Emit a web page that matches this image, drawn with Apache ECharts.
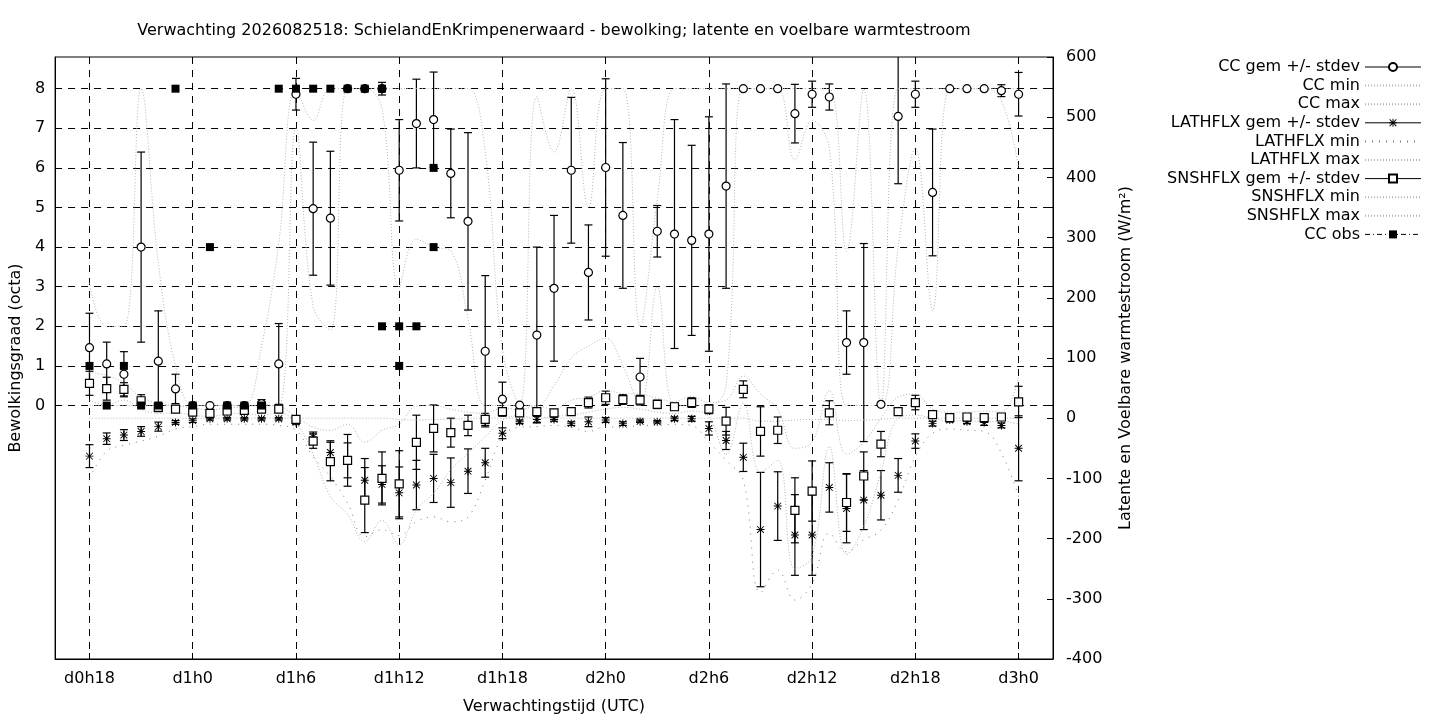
<!DOCTYPE html>
<html><head><meta charset="utf-8">
<script src="https://cdn.jsdelivr.net/npm/echarts@6/dist/echarts.min.js"></script>
<style>html,body{margin:0;padding:0;background:#fff}#c{width:1440px;height:720px}</style>
</head><body><div id="c"></div>
<script>
// ---- data (forecast hour since d0h0) ----
const hours = [18,19,20,21,22,23,24,25,26,27,28,29,30,31,32,33,34,35,36,37,38,39,40,41,42,43,44,45,46,47,48,49,50,51,52,53,54,55,56,57,58,59,60,61,62,63,64,65,66,67,68,69,70,71,72];
const xTickHours = [18,24,30,36,42,48,54,60,66,72];
const xTickLabels = ['d0h18','d1h0','d1h6','d1h12','d1h18','d2h0','d2h6','d2h12','d2h18','d3h0'];
const ccTicks = [0,1,2,3,4,5,6,7,8];

const ccMean = [1.46,1.05,0.79,4.0,1.12,0.42,0,0,0,0, 0.05,1.05,7.86,4.97,4.73,8,8,8,5.94,7.12, 7.22,5.86,4.65,1.37,0.16,0.01,1.78,2.96,5.94,3.36, 6.01,4.80,0.72,4.40,4.33,4.17,4.33,5.54,8,8, 8,7.37,7.86,7.79,1.59,1.59,0.03,7.30,7.86,5.38, 8,8,8,7.95,7.86];
const ccStd  = [0.87,0.55,0.57,2.4,1.27,0.37,0,0,0,0, 0.1,1.02,0.4,1.68,1.69,0,0,0.16,1.28,1.12, 1.2,1.12,2.24,1.91,0.43,0,2.22,1.84,1.84,1.2, 2.24,1.84,0.47,0.65,2.89,2.4,2.96,2.58,0,0, 0,0.74,0.33,0.33,0.8,2.5,0,1.7,0.33,1.6, 0,0,0,0.15,0.55];
const ccMin  = [0,0,0,0,0,0,0,0,0,0, 0,0,7.0,2.5,1.9,8,8,7.5,3.0,4.2, 4.0,3.9,2.2,0,0,0,0,0.5,1.2,1.5, 1.7,1.0,0,3.0,0,0,0,0.5,8,8, 8,6.2,7.2,6.5,0,0,0,4.0,6.5,2.4, 8,8,8,7.7,6.0];
const ccMax  = [3.1,2.0,2.0,8,3.6,1.0,0,0,0,0, 1.5,4.1,8,7.2,8,8,8,8,8,8, 8,8,8,6.4,1.4,0,7.8,6.4,8,5.0, 8,8,2.0,5.2,8,8,8,8,8,8, 8,8,8,8,3.9,8,0,8,8,8, 8,8,8,8,8];

const lathMean = [-63,-34,-28,-22,-14,-7,-4,-1,-1,-1, -1,-1,-7,-31,-57,-70,-103,-110,-124,-111, -100,-107,-88,-74,-25,-6,-2,-2,-9,-6, -3,-9,-5,-6,-1,-1,-17,-37,-65,-185, -146,-194,-194,-115,-150,-136,-128,-95,-38,-9, -3,-6,-7,-12,-50];
const lathStd  = [19,9.5,9,8,7.5,3,3,2,2,2, 2,2,3,8,19.5,29,36,31,43,41, 40,41,37,24,9,3,5,3,3,8, 4,3,2,2,3,4,11,15,23.5,95, 57,67,67,41,57,49,41,28,12,4, 3,3,5,4,54];
const lathMin  = [-100,-55,-45,-38,-30,-18,-14,-10,-10,-10, -10,-12,-20,-64,-97,-141,-197,-185,-195,-172, -164,-172,-164,-103,-31,-15,-14,-12,-15,-22, -14,-16,-12,-12,-10,-12,-40,-70,-103,-290, -252,-302,-275,-191,-222,-202,-186,-136,-64,-25, -18,-20,-22,-58,-130];
const lathMax  = [0,0,0,0,0,0,0,0,0,0, 0,0,0,0,0,0,0,0,-2,-3, -2,-2,0,0,0,0,0,0,0,0, 0,0,0,0,0,0,0,0,0,-5, -5,-3,-2,-2,-4,-3,-2,0,0,0, 0,0,0,0,0];

const snshMean = [58,49,48,29,18,15,10,8,12,13, 15,15,-2,-38,-72,-70,-136,-100,-109,-40, -17,-24,-12,-2,11,9,11,9,11,26, 34,31,30,23,19,26,15,-5,48,-22, -20,-153,-121,9,-140,-96,-43,11,26,6, 1,2,1,2,27];
const snshStd  = [20,19,11,10,7,3,3,3,3,3, 5,3,3,12,32,43,54,44,55,45, 39,24,17,10,5,3,5,3,3,9, 11,8,8,7,6,8,7.5,23,14,41, 22,54,50,20,48,40,21,5,12,3, 3,3,4,3,26];
const snshMin  = [30,22,30,15,8,9,5,3,7,8, 5,9,-8,-60,-130,-160,-205,-170,-210,-152, -125,-86,-58,-31,-3,4,0,3,5,10, 15,18,15,10,8,12,2,-60,25,-90, -70,-250,-230,-47,-227,-180,-90,0,5,0, -5,-4,-6,-5,-10];
const snshMax  = [76,71,58,35,25,21,17,14,17,19, 22,20,3,-15,-20,-10,-40,-20,-10,20, 21,15,10,8,17,14,20,15,30,35, 46,41,40,33,28,36,26,30,70,40, 15,-50,-40,46,-60,-40,0,35,40,15, 10,10,12,10,68];

const obsHours  = [18,19,20,21,22,23,24,25,26,27,28,29,30,31,32,33,34,35,35,36,36,37,38,38];
const obsValues = [1,0,1,0,0,8,0,4,0,0,0,8,8,8,8,8,8,8,2,2,1,2,6,4];

// ---- chart ----
const F = 'DejaVu Sans';
const FS = 16;
const pairs = (ys) => hours.map((h, i) => [h, ys[i]]);
const triples = (m, s) => hours.map((h, i) => [h, m[i], s[i]]);
const ASTERISK = 'path://M4.4,0H5.6V10H4.4Z M0,4.4H10V5.6H0Z M1.2,0.4L9.6,8.8L8.8,9.6L0.4,1.2Z M8.8,0.4L9.6,1.2L1.2,9.6L0.4,8.8Z';

function errBar(params, api) {
  const x = api.value(0), m = api.value(1), s = api.value(2);
  if (!(s > 0)) return null;
  const cs = params.coordSys;
  const top = api.coord([x, m + s]), bot = api.coord([x, m - s]);
  const yMin = cs.y, yMax = cs.y + cs.height;
  const st = {stroke: '#000', lineWidth: 1.2};
  const y1 = Math.max(top[1], yMin), y2 = Math.min(bot[1], yMax);
  const ch = [];
  if (y2 > y1) ch.push({type: 'line', shape: {x1: top[0], y1: y1, x2: top[0], y2: y2}, style: st});
  if (top[1] >= yMin && top[1] <= yMax) ch.push({type: 'line', shape: {x1: top[0] - 4, y1: top[1], x2: top[0] + 4, y2: top[1]}, style: st});
  if (bot[1] <= yMax && bot[1] >= yMin) ch.push({type: 'line', shape: {x1: bot[0] - 4, y1: bot[1], x2: bot[0] + 4, y2: bot[1]}, style: st});
  return {type: 'group', children: ch};
}
function errSeries(name, yIdx, m, s) {
  return {name: name, type: 'custom', xAxisIndex: 0, yAxisIndex: yIdx, silent: true,
    data: triples(m, s), encode: {x: 0, y: 1}, renderItem: errBar};
}
function dotted(name, yIdx, ys, color, dash) {
  return {name: name, type: 'line', yAxisIndex: yIdx, data: pairs(ys), symbol: 'none', smooth: 0.4,
    silent: true, itemStyle: {color: color},
    lineStyle: {color: color, width: 1, type: dash}};
}
function points(name, yIdx, data, symbol, size, itemStyle) {
  return {name: name, type: 'line', yAxisIndex: yIdx, data: data, symbol: symbol, symbolSize: size,
    showAllSymbol: true, silent: true, itemStyle: itemStyle, lineStyle: {opacity: 0, color: '#000'}};
}

const LIGHT = '#b4b4b4';
const option = {
  animation: false,
  backgroundColor: '#fff',
  title: {
    text: 'Verwachting 2026082518: SchielandEnKrimpenerwaard - bewolking; latente en voelbare warmtestroom',
    left: 554, top: 22, textAlign: 'center', padding: 0,
    textStyle: {fontFamily: F, fontSize: FS, fontWeight: 'normal', color: '#000', lineHeight: 18}
  },
  grid: {left: 55, right: 387, top: 57, bottom: 60, show: true, borderColor: '#000', borderWidth: 1, backgroundColor: 'transparent'},
  legend: {
    orient: 'vertical', right: 18, top: 59, padding: 0, align: 'right', itemWidth: 56, itemHeight: 10, itemGap: 2.6,
    selectedMode: false,
    textStyle: {fontFamily: F, fontSize: FS, color: '#000', lineHeight: 14},
    data: [
      {name: 'CC gem +/- stdev', lineStyle: {opacity: 1, color: '#000', width: 1, type: 'solid'}},
      {name: 'CC min', itemStyle: {opacity: 0}},
      {name: 'CC max', itemStyle: {opacity: 0}},
      {name: 'LATHFLX gem +/- stdev', lineStyle: {opacity: 1, color: '#000', width: 1, type: 'solid'}},
      {name: 'LATHFLX min', itemStyle: {opacity: 0}},
      {name: 'LATHFLX max', itemStyle: {opacity: 0}},
      {name: 'SNSHFLX gem +/- stdev', lineStyle: {opacity: 1, color: '#000', width: 1, type: 'solid'}},
      {name: 'SNSHFLX min', itemStyle: {opacity: 0}},
      {name: 'SNSHFLX max', itemStyle: {opacity: 0}},
      {name: 'CC obs', lineStyle: {opacity: 1, color: '#000', width: 1, type: [5, 3, 1, 3]}}
    ]
  },
  xAxis: {
    type: 'value', min: 16, max: 74,
    name: 'Verwachtingstijd (UTC)', nameLocation: 'middle', nameGap: 40,
    nameTextStyle: {fontFamily: F, fontSize: FS, color: '#000'},
    axisLine: {show: true, onZero: false, lineStyle: {color: '#000', width: 1}},
    axisTick: {show: true, inside: true, length: 6, customValues: xTickHours, lineStyle: {color: '#000'}},
    axisLabel: {customValues: xTickHours, margin: 12, fontFamily: F, fontSize: FS, color: '#000',
      formatter: (v) => xTickLabels[xTickHours.indexOf(v)] || ''},
    splitLine: {show: true, lineStyle: {color: '#000', width: 1, type: [7, 6]}}
  },
  yAxis: [
    {
      type: 'value', min: -6.4, max: 8.8, position: 'left',
      name: 'Bewolkingsgraad (octa)', nameLocation: 'middle', nameGap: 25,
      nameTextStyle: {fontFamily: F, fontSize: FS, color: '#000'},
      axisLine: {show: true, onZero: false, lineStyle: {color: '#000'}},
      axisTick: {show: true, inside: true, length: 6, customValues: ccTicks, lineStyle: {color: '#000'}},
      axisLabel: {customValues: ccTicks, margin: 10, fontFamily: F, fontSize: FS, color: '#000'},
      splitLine: {show: true, lineStyle: {color: '#000', width: 1, type: [7, 6]}}
    },
    {
      type: 'value', min: -400, max: 600, interval: 100, position: 'right',
      name: 'Latente en Voelbare warmtestroom (W/m²)', nameLocation: 'middle', nameGap: 65,
      nameTextStyle: {fontFamily: F, fontSize: FS, color: '#000'},
      axisLine: {show: true, onZero: false, lineStyle: {color: '#000'}},
      axisTick: {show: true, inside: true, length: 6, lineStyle: {color: '#000'}},
      axisLabel: {margin: 13, fontFamily: F, fontSize: FS, color: '#000'},
      splitLine: {show: false}
    },
    {
      type: 'value', min: -6.4, max: 8.8, position: 'right', offset: 0,
      axisLine: {show: false, onZero: false},
      axisTick: {show: true, inside: true, length: 6, customValues: ccTicks, lineStyle: {color: '#000'}},
      axisLabel: {show: false},
      splitLine: {show: false}
    }
  ],
  series: [
    errSeries('ccErr', 0, ccMean, ccStd),
    points('CC gem +/- stdev', 0, pairs(ccMean), 'circle', 8, {color: '#fff', borderColor: '#000', borderWidth: 1.2}),
    dotted('CC min', 0, ccMin, LIGHT, [1, 2]),
    dotted('CC max', 0, ccMax, LIGHT, [1, 2]),
    errSeries('lathErr', 1, lathMean, lathStd),
    points('LATHFLX gem +/- stdev', 1, pairs(lathMean), ASTERISK, 8, {color: '#000'}),
    dotted('LATHFLX min', 1, lathMin, '#7a7a7a', [1, 6]),
    dotted('LATHFLX max', 1, lathMax, LIGHT, [1, 2]),
    errSeries('snshErr', 1, snshMean, snshStd),
    points('SNSHFLX gem +/- stdev', 1, pairs(snshMean), 'rect', 8, {color: '#fff', borderColor: '#000', borderWidth: 1.2}),
    dotted('SNSHFLX min', 1, snshMin, LIGHT, [1, 2]),
    dotted('SNSHFLX max', 1, snshMax, LIGHT, [1, 2]),
    points('CC obs', 0, obsHours.map((h, i) => [h, obsValues[i]]), 'rect', 8, {color: '#000'})
  ]
};
const chart = echarts.init(document.getElementById('c'), null, {renderer: 'canvas'});
chart.setOption(option);
</script></body></html>
